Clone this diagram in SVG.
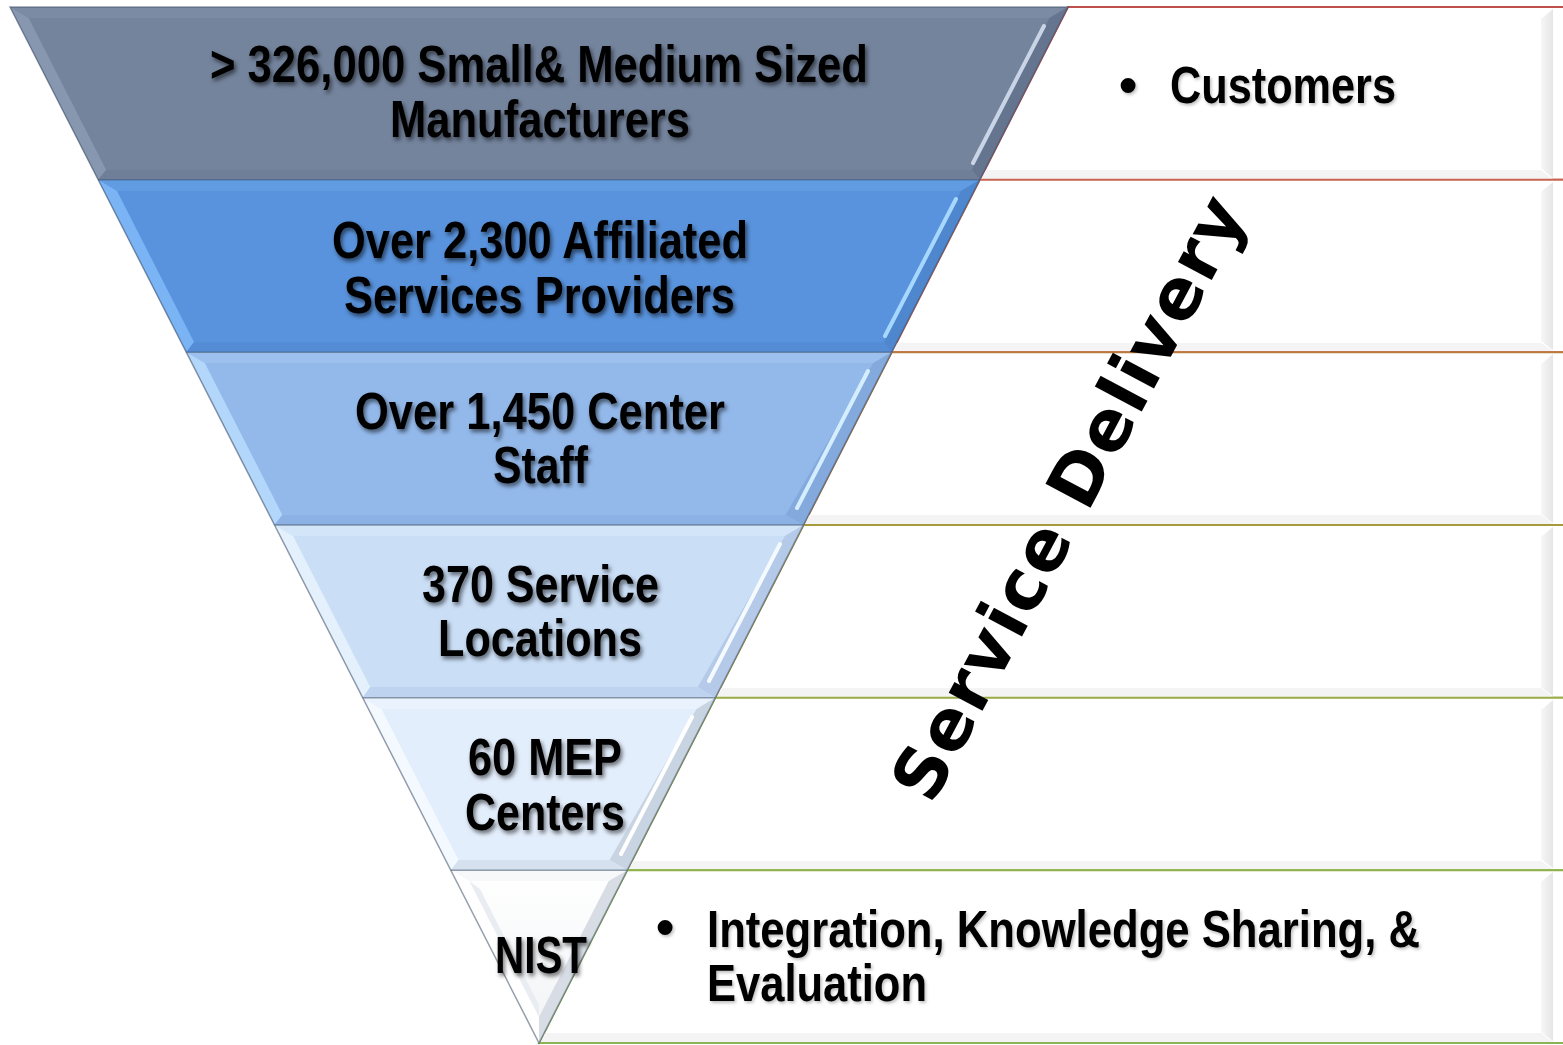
<svg xmlns="http://www.w3.org/2000/svg" width="1563" height="1045" viewBox="0 0 1563 1045">
<defs>
<style>
.t{font-family:"Liberation Sans",Arial,sans-serif;font-weight:bold;font-size:52px;fill:#000}
.ft{filter:url(#sh)}
.sd{font-family:"DejaVu Sans",Verdana,sans-serif;font-weight:bold;font-size:70px;fill:#000}
.box{fill:#fff;stroke-width:2}
.rf{fill:url(#rfg)}
.bf{fill:#f4f4f4}
.hl{stroke-width:4;stroke-linecap:round}
.edge{stroke:#3f5068;stroke-opacity:0.55;stroke-width:1.5}
</style>
<filter id="sh" x="-10%" y="-30%" width="120%" height="160%">
<feDropShadow dx="2" dy="3" stdDeviation="2" flood-color="#000" flood-opacity="0.55"/>
</filter>
<filter id="sh2" x="-10%" y="-30%" width="120%" height="160%">
<feDropShadow dx="1.5" dy="2" stdDeviation="1.5" flood-color="#000" flood-opacity="0.25"/>
</filter>
<linearGradient id="rfg" x1="0" y1="0" x2="1" y2="0">
<stop offset="0" stop-color="#f6f6f6"/>
<stop offset="1" stop-color="#e6e6e6"/>
</linearGradient>
<linearGradient id="w6" x1="0" y1="0" x2="0" y2="1">
<stop offset="0" stop-color="#ffffff"/>
<stop offset="1" stop-color="#f1f3f6"/>
</linearGradient>
</defs>
<rect width="1563" height="1045" fill="#fff"/>

<!-- right boxes -->
<g id="rightBoxes">
<g id="box1">
<polygon class="box" stroke="#C0504D" points="1068,7 1575,7 1575,179.7 979.8,179.7"/>
<polygon class="rf" points="1541,19 1553,9 1553,178 1541,168"/>
<polygon class="bf" points="986,170 1541,170 1553,179 981,179"/>
</g>
<g id="box2">
<polygon class="box" stroke="#C86450" points="979.8,179.7 1575,179.7 1575,352.3 891.7,352.3"/>
<polygon class="rf" points="1541,192 1553,182 1553,350 1541,341"/>
<polygon class="bf" points="897,343 1541,343 1553,351 893,351"/>
</g>
<g id="box3">
<polygon class="box" stroke="#B97A3C" points="891.7,352.3 1575,352.3 1575,525 803.5,525"/>
<polygon class="rf" points="1541,364 1553,354 1553,523 1541,514"/>
<polygon class="bf" points="809,515 1541,515 1553,524 805,524"/>
</g>
<g id="box4">
<polygon class="box" stroke="#A89A3C" points="803.5,525 1575,525 1575,697.7 715.3,697.7"/>
<polygon class="rf" points="1541,537 1553,527 1553,696 1541,687"/>
<polygon class="bf" points="721,688 1541,688 1553,697 717,697"/>
</g>
<g id="box5">
<polygon class="box" stroke="#99AC46" points="715.3,697.7 1575,697.7 1575,870.3 627.2,870.3"/>
<polygon class="rf" points="1541,710 1553,700 1553,868 1541,859"/>
<polygon class="bf" points="633,861 1541,861 1553,869 629,869"/>
</g>
<g id="box6">
<polygon class="box" stroke="#8EB24E" points="627.2,870.3 1575,870.3 1575,1043 539,1043"/>
<polygon class="rf" points="1541,882 1553,872 1553,1041 1541,1032"/>
<polygon class="bf" points="545,1033 1541,1033 1553,1042 541,1042"/>
</g>
<line x1="539" y1="1043" x2="1563" y2="1043" stroke="#8CB454" stroke-width="2"/>
</g>

<!-- funnel -->
<g id="funnel">
<g id="layer1">
<polygon fill="#74849D" points="10,7 1068,7 979.8,179.7 98.2,179.7"/>
<polygon fill="#7B8BA4" points="10,7 1068,7 1049.4,18 28.6,18"/>
<polygon fill="#8797B0" points="10,7 28.6,18 106.2,170 98.2,179.7"/>
<polygon fill="#66758F" points="1068,7 979.8,179.7 971.8,170 1049.4,18"/>
<polygon fill="#6F7F98" points="98.2,179.7 979.8,179.7 971.8,170 106.2,170"/>
<line class="hl" x1="1044" y1="26" x2="973" y2="163" stroke="#C9D4E6"/>
</g>
<g id="layer2">
<polygon fill="#5993DD" points="98.2,179.7 979.8,179.7 891.7,352.3 186.3,352.3"/>
<polygon fill="#619CE2" points="98.2,179.7 979.8,179.7 961,191 117,191"/>
<polygon fill="#7AB4F5" points="98.2,179.7 117,191 194,342 186.3,352.3"/>
<polygon fill="#4F87CE" points="979.8,179.7 891.7,352.3 884,342 961,191"/>
<polygon fill="#548DD6" points="186.3,352.3 891.7,352.3 884,342 194,342"/>
<line class="hl" x1="956" y1="199" x2="885" y2="336" stroke="#A6D8FF"/>
</g>
<g id="layer3">
<polygon fill="#93B9EB" points="186.3,352.3 891.7,352.3 803.5,525 274.5,525"/>
<polygon fill="#9CC1EF" points="186.3,352.3 891.7,352.3 873.2,363 204.8,363"/>
<polygon fill="#B3D6FB" points="186.3,352.3 204.8,363 282.4,515 274.5,525"/>
<polygon fill="#84A9DC" points="891.7,352.3 803.5,525 785.6,515 873.2,363"/>
<polygon fill="#8CB1E4" points="274.5,525 803.5,525 785.6,515 282.4,515"/>
<line class="hl" x1="868" y1="371" x2="797" y2="508" stroke="#D4EEFF"/>
</g>
<g id="layer4">
<polygon fill="#CADEF6" points="274.5,525 803.5,525 715.3,697.7 362.7,697.7"/>
<polygon fill="#D3E5F9" points="274.5,525 803.5,525 784.9,536 293.1,536"/>
<polygon fill="#E4F1FD" points="274.5,525 293.1,536 370.2,687 362.7,697.7"/>
<polygon fill="#B4CAE8" points="803.5,525 715.3,697.7 697.8,687 784.9,536"/>
<polygon fill="#BED3EF" points="362.7,697.7 715.3,697.7 697.8,687 370.2,687"/>
<line class="hl" x1="780" y1="544" x2="709" y2="681" stroke="#F4FAFF"/>
</g>
<g id="layer5">
<polygon fill="#E3EEFC" points="362.7,697.7 715.3,697.7 627.2,870.3 450.8,870.3"/>
<polygon fill="#E9F2FD" points="362.7,697.7 715.3,697.7 696.6,709 381.4,709"/>
<polygon fill="#F4F9FF" points="362.7,697.7 381.4,709 458.5,860 450.8,870.3"/>
<polygon fill="#C9D4E3" points="715.3,697.7 627.2,870.3 609.5,860 696.6,709"/>
<polygon fill="#D6E1EF" points="450.8,870.3 627.2,870.3 609.5,860 458.5,860"/>
<line class="hl" x1="692" y1="717" x2="621" y2="854" stroke="#FFFFFF"/>
</g>
<g id="layer6">
<polygon fill="url(#w6)" points="450.8,870.3 627.2,870.3 539,1043"/>
<polygon fill="#F7F8FA" points="450.8,870.3 627.2,870.3 608.7,881 469.3,881"/>
<polygon fill="#FFFFFF" points="450.8,870.3 469.3,881 539,1017 539,1043"/>
<polygon fill="#D8DDE5" points="627.2,870.3 539,1043 539,1017 608.7,881"/>
<polygon fill="#E9ECF1" points="469.3,881 480,889 539,1005 539,1017"/>
</g>
<g id="edges" fill="none">
<polygon class="edge" points="10,7 1068,7 539,1043"/>
<line class="edge" x1="98.2" y1="179.7" x2="979.8" y2="179.7"/>
<line class="edge" x1="186.3" y1="352.3" x2="891.7" y2="352.3"/>
<line class="edge" x1="274.5" y1="525" x2="803.5" y2="525"/>
<line class="edge" x1="362.7" y1="697.7" x2="715.3" y2="697.7"/>
<line class="edge" x1="450.8" y1="870.3" x2="627.2" y2="870.3"/>
</g>
</g>

<!-- funnel labels -->
<g id="labels">
<g id="n1" class="ft">
<text class="t" x="210" y="82" textLength="658" lengthAdjust="spacingAndGlyphs">&gt; 326,000 Small&amp; Medium Sized</text>
<text class="t" x="390" y="137" textLength="300" lengthAdjust="spacingAndGlyphs">Manufacturers</text>
</g>
<g id="n2" class="ft">
<text class="t" x="332" y="258" textLength="416" lengthAdjust="spacingAndGlyphs">Over 2,300 Affiliated</text>
<text class="t" x="344" y="313" textLength="391" lengthAdjust="spacingAndGlyphs">Services Providers</text>
</g>
<g id="n3" class="ft">
<text class="t" x="355" y="429" textLength="370" lengthAdjust="spacingAndGlyphs">Over 1,450 Center</text>
<text class="t" x="493" y="483" textLength="95" lengthAdjust="spacingAndGlyphs">Staff</text>
</g>
<g id="n4" class="ft">
<text class="t" x="422" y="602" textLength="237" lengthAdjust="spacingAndGlyphs">370 Service</text>
<text class="t" x="438" y="656" textLength="204" lengthAdjust="spacingAndGlyphs">Locations</text>
</g>
<g id="n5" class="ft">
<text class="t" x="468" y="775" textLength="154" lengthAdjust="spacingAndGlyphs">60 MEP</text>
<text class="t" x="465" y="830" textLength="160" lengthAdjust="spacingAndGlyphs">Centers</text>
</g>
<g id="n6" class="ft">
<text class="t" x="495" y="973" textLength="92" lengthAdjust="spacingAndGlyphs">NIST</text>
</g>
</g>

<g id="rightText" filter="url(#sh2)">
<text class="t" x="1119" y="103">•</text>
<text class="t" x="1170" y="103" textLength="226" lengthAdjust="spacingAndGlyphs">Customers</text>
<text class="t" x="656" y="945">•</text>
<text class="t" x="707" y="947" textLength="713" lengthAdjust="spacingAndGlyphs">Integration, Knowledge Sharing, &amp;</text>
<text class="t" x="707" y="1001" textLength="220" lengthAdjust="spacingAndGlyphs">Evaluation</text>
</g>

<g id="serviceDelivery">
<text class="sd" x="932" y="806" transform="rotate(-62 932 806)" textLength="672" lengthAdjust="spacing">Service Delivery</text>
</g>
</svg>
